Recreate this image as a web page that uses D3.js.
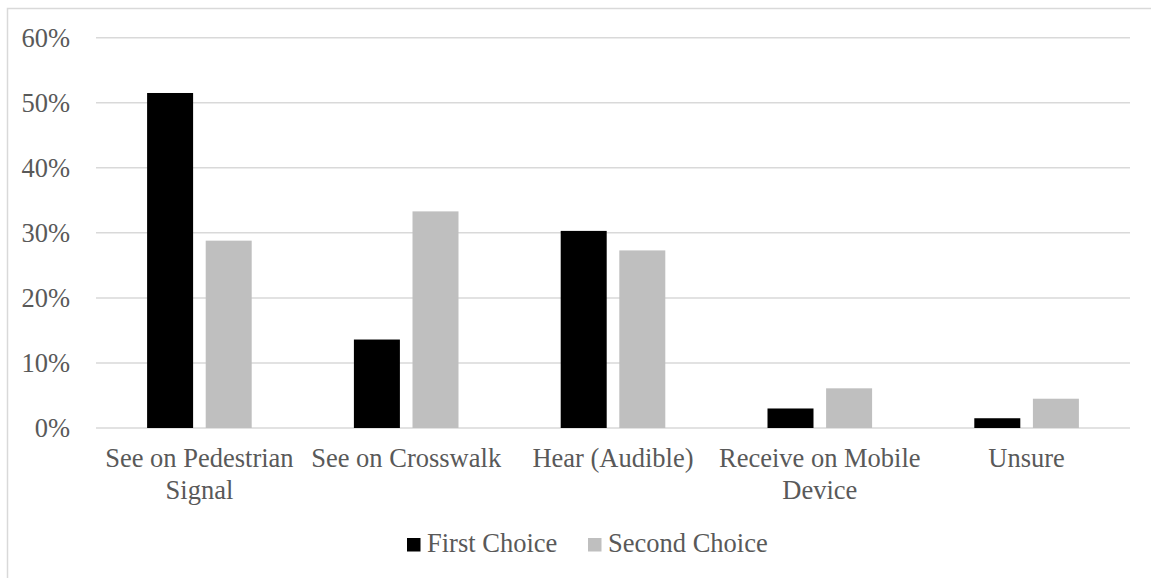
<!DOCTYPE html>
<html>
<head>
<meta charset="utf-8">
<script src="https://cdn.jsdelivr.net/npm/d3@7"></script>
<style>
  body { margin: 0; background: #fff; }
  svg { display: block; font-family: "Liberation Serif", "Times New Roman", serif; }
</style>
</head>
<body>
<svg id="chart" width="1151" height="578"></svg>
<script>
var categories = [["See on Pedestrian", "Signal"], ["See on Crosswalk"], ["Hear (Audible)"], ["Receive on Mobile", "Device"], ["Unsure"]];
var seriesNames = ["First Choice", "Second Choice"];
var firstChoice = [0.515, 0.136, 0.303, 0.030, 0.015];
var secondChoice = [0.288, 0.333, 0.273, 0.061, 0.045];
var yTicks = [0, 0.1, 0.2, 0.3, 0.4, 0.5, 0.6];
var seriesColors = ["#000000", "#bfbfbf"];

var svg = d3.select("#chart");
var textColor = "#595959";
var fontSize = "26.5px";

// chart border (runs off the right and bottom edge)
svg.append("path")
    .attr("d", "M7.5,578 L7.5,8.5 L1151,8.5")
    .style("fill", "none")
    .style("stroke", "#d9d9d9")
    .style("stroke-width", 1.5);

var plotLeft = 96, plotRight = 1130, plotTop = 37.7, plotBottom = 428;

var y = d3.scaleLinear().domain([0, 0.6]).range([plotBottom, plotTop]);
var x0 = d3.scaleBand().domain(d3.range(categories.length)).range([plotLeft, plotRight]);
var x1 = d3.scaleBand().domain(d3.range(seriesNames.length))
    .range([0, x0.bandwidth()])
    .paddingInner(0.215)
    .paddingOuter(0.872);

// gridlines
svg.append("g")
    .selectAll("line")
    .data(yTicks)
    .enter()
    .append("line")
    .attr("x1", plotLeft)
    .attr("x2", plotRight)
    .attr("y1", function (d) { return y(d) })
    .attr("y2", function (d) { return y(d) })
    .style("stroke", "#d9d9d9")
    .style("stroke-width", 1.5);

// y tick labels
svg.append("g")
    .selectAll("text")
    .data(yTicks)
    .enter()
    .append("text")
    .attr("x", 70)
    .attr("y", function (d) { return y(d) + 9 })
    .attr("text-anchor", "end")
    .style("font-size", fontSize)
    .style("fill", textColor)
    .text(d3.format(".0%"));

// bars
var values = [firstChoice, secondChoice];
values.forEach(function (vals, s) {
    svg.append("g")
        .selectAll("rect")
        .data(vals)
        .enter()
        .append("rect")
        .attr("x", function (d, i) { return x0(i) + x1(s) })
        .attr("width", x1.bandwidth())
        .attr("y", function (d) { return y(d) })
        .attr("height", function (d) { return plotBottom - y(d) })
        .style("fill", seriesColors[s]);
});

// category labels
var catLabels = svg.append("g")
    .selectAll("text")
    .data(categories)
    .enter()
    .append("text")
    .attr("text-anchor", "middle")
    .style("font-size", fontSize)
    .style("fill", textColor);
catLabels.selectAll("tspan")
    .data(function (d, i) { return d.map(function (t) { return { t: t, i: i } }) })
    .enter()
    .append("tspan")
    .attr("x", function (d) { return x0(d.i) + x0.bandwidth() / 2 })
    .attr("y", function (d, j) { return 467 + j * 31.5 })
    .text(function (d) { return d.t });

// legend
var legendX = [407, 588];
var legend = svg.append("g")
    .selectAll("g")
    .data(seriesNames)
    .enter()
    .append("g");
legend.append("rect")
    .attr("x", function (d, i) { return legendX[i] })
    .attr("y", 538)
    .attr("width", 13.5)
    .attr("height", 13.5)
    .style("fill", function (d, i) { return seriesColors[i] });
legend.append("text")
    .attr("x", function (d, i) { return legendX[i] + 20 })
    .attr("y", 552)
    .style("font-size", fontSize)
    .style("fill", textColor)
    .text(function (d) { return d });
</script>
</body>
</html>
